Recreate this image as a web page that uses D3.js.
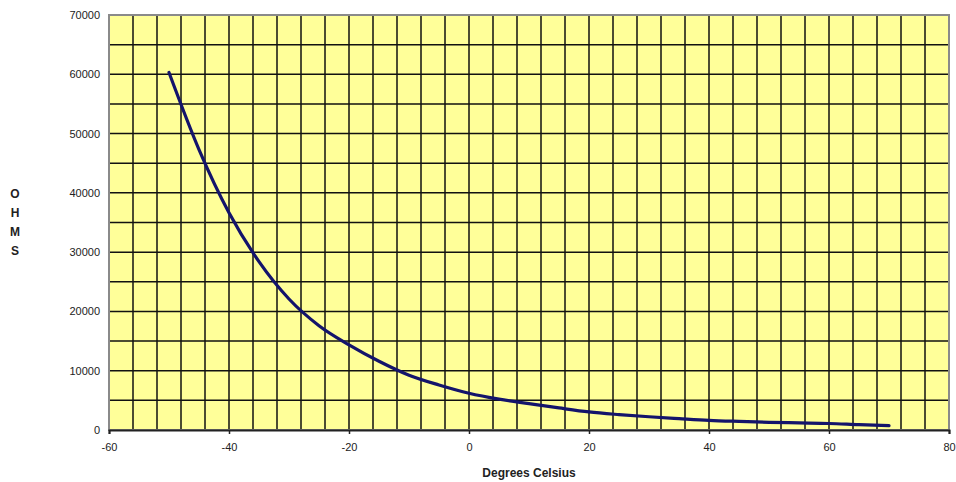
<!DOCTYPE html>
<html>
<head>
  <meta charset="utf-8">
  <script src="https://d3js.org/d3.v7.min.js"></script>
  <style>
    body { margin: 0; background: #fff; }
    .tick text { font-family: "Liberation Sans", Arial, sans-serif; font-size: 11px; fill: #222; }
    .title { font-family: "Liberation Sans", Arial, sans-serif; font-size: 12px; font-weight: bold; fill: #222; }
  </style>
</head>
<body>
  <svg id="chart" width="956" height="482"></svg>
  <script>
    // readings taken off the original curve, every 5 degrees
    const temps = [-50, -45, -40, -35, -30, -25, -20, -15, -10, -5, 0, 5, 10, 15, 20, 25, 30, 35, 40, 45, 50, 55, 60, 65, 70];
    const ohms = [60300, 47300, 36640, 28400, 22100, 17600, 14370, 11600, 9250, 7600, 6200, 5200, 4450, 3720, 3050, 2600, 2230, 1920, 1630, 1450, 1300, 1200, 1100, 900, 730];
    const xTicks = [-60, -40, -20, 0, 20, 40, 60, 80];
    const yTicks = [0, 10000, 20000, 30000, 40000, 50000, 60000, 70000];
    const xGrid = d3.range(-56, 80, 4);
    const yGrid = d3.range(5000, 70000, 5000);
    const yLetters = ["O", "H", "M", "S"];

    const svg = d3.select("#chart");
    const margin = { top: 15, right: 7, bottom: 52, left: 109 };
    const width = +svg.attr("width") - margin.left - margin.right;
    const height = +svg.attr("height") - margin.top - margin.bottom;

    const x = d3.scaleLinear().domain([-60, 80]).range([0, width]);
    const y = d3.scaleLinear().domain([0, 70000]).range([height, 0]);

    const g = svg.append("g")
      .attr("transform", "translate(" + margin.left + "," + margin.top + ")");

    g.append("rect")
      .attr("width", width).attr("height", height)
      .attr("fill", "#ffff99");

    // grid
    g.selectAll(".vgrid").data(xGrid).join("line")
      .attr("x1", d => x(d)).attr("x2", d => x(d))
      .attr("y1", 0).attr("y2", height)
      .attr("stroke", "#111").attr("stroke-width", 1.5);
    g.selectAll(".hgrid").data(yGrid).join("line")
      .attr("x1", 0).attr("x2", width)
      .attr("y1", d => y(d)).attr("y2", d => y(d))
      .attr("stroke", "#111").attr("stroke-width", 1.5);

    // frame
    g.append("rect")
      .attr("width", width).attr("height", height)
      .attr("fill", "none").attr("stroke", "#8a8a8a").attr("stroke-width", 2);

    // plain hyphen minus like the original
    const xAxis = g.append("g")
      .attr("transform", "translate(0," + height + ")")
      .call(d3.axisBottom(x).tickValues(xTicks).tickSize(4).tickPadding(9).tickFormat(d => String(d)));
    xAxis.select(".domain").attr("stroke", "#222").attr("stroke-width", 2);
    xAxis.selectAll(".tick line").attr("stroke", "#222").attr("stroke-width", 1.5);

    const yAxis = g.append("g")
      .call(d3.axisLeft(y).tickValues(yTicks).tickSize(0).tickPadding(9).tickFormat(d => String(d)));
    yAxis.select(".domain").remove();

    // the curve
    const line = d3.line()
      .x((d, i) => x(temps[i]))
      .y(d => y(d))
      .curve(d3.curveMonotoneX);

    g.append("path")
      .datum(ohms)
      .attr("fill", "none")
      .attr("stroke", "#14146b")
      .attr("stroke-width", 3.2)
      .attr("stroke-linejoin", "round")
      .attr("stroke-linecap", "round")
      .attr("d", line);

    svg.append("text")
      .attr("class", "title")
      .attr("x", margin.left + width / 2)
      .attr("y", 477)
      .attr("text-anchor", "middle")
      .text("Degrees Celsius");

    svg.selectAll(".ylet").data(yLetters).join("text")
      .attr("class", "title")
      .attr("x", 15)
      .attr("y", (d, i) => 198 + i * 19)
      .attr("text-anchor", "middle")
      .text(d => d);
  </script>
</body>
</html>
